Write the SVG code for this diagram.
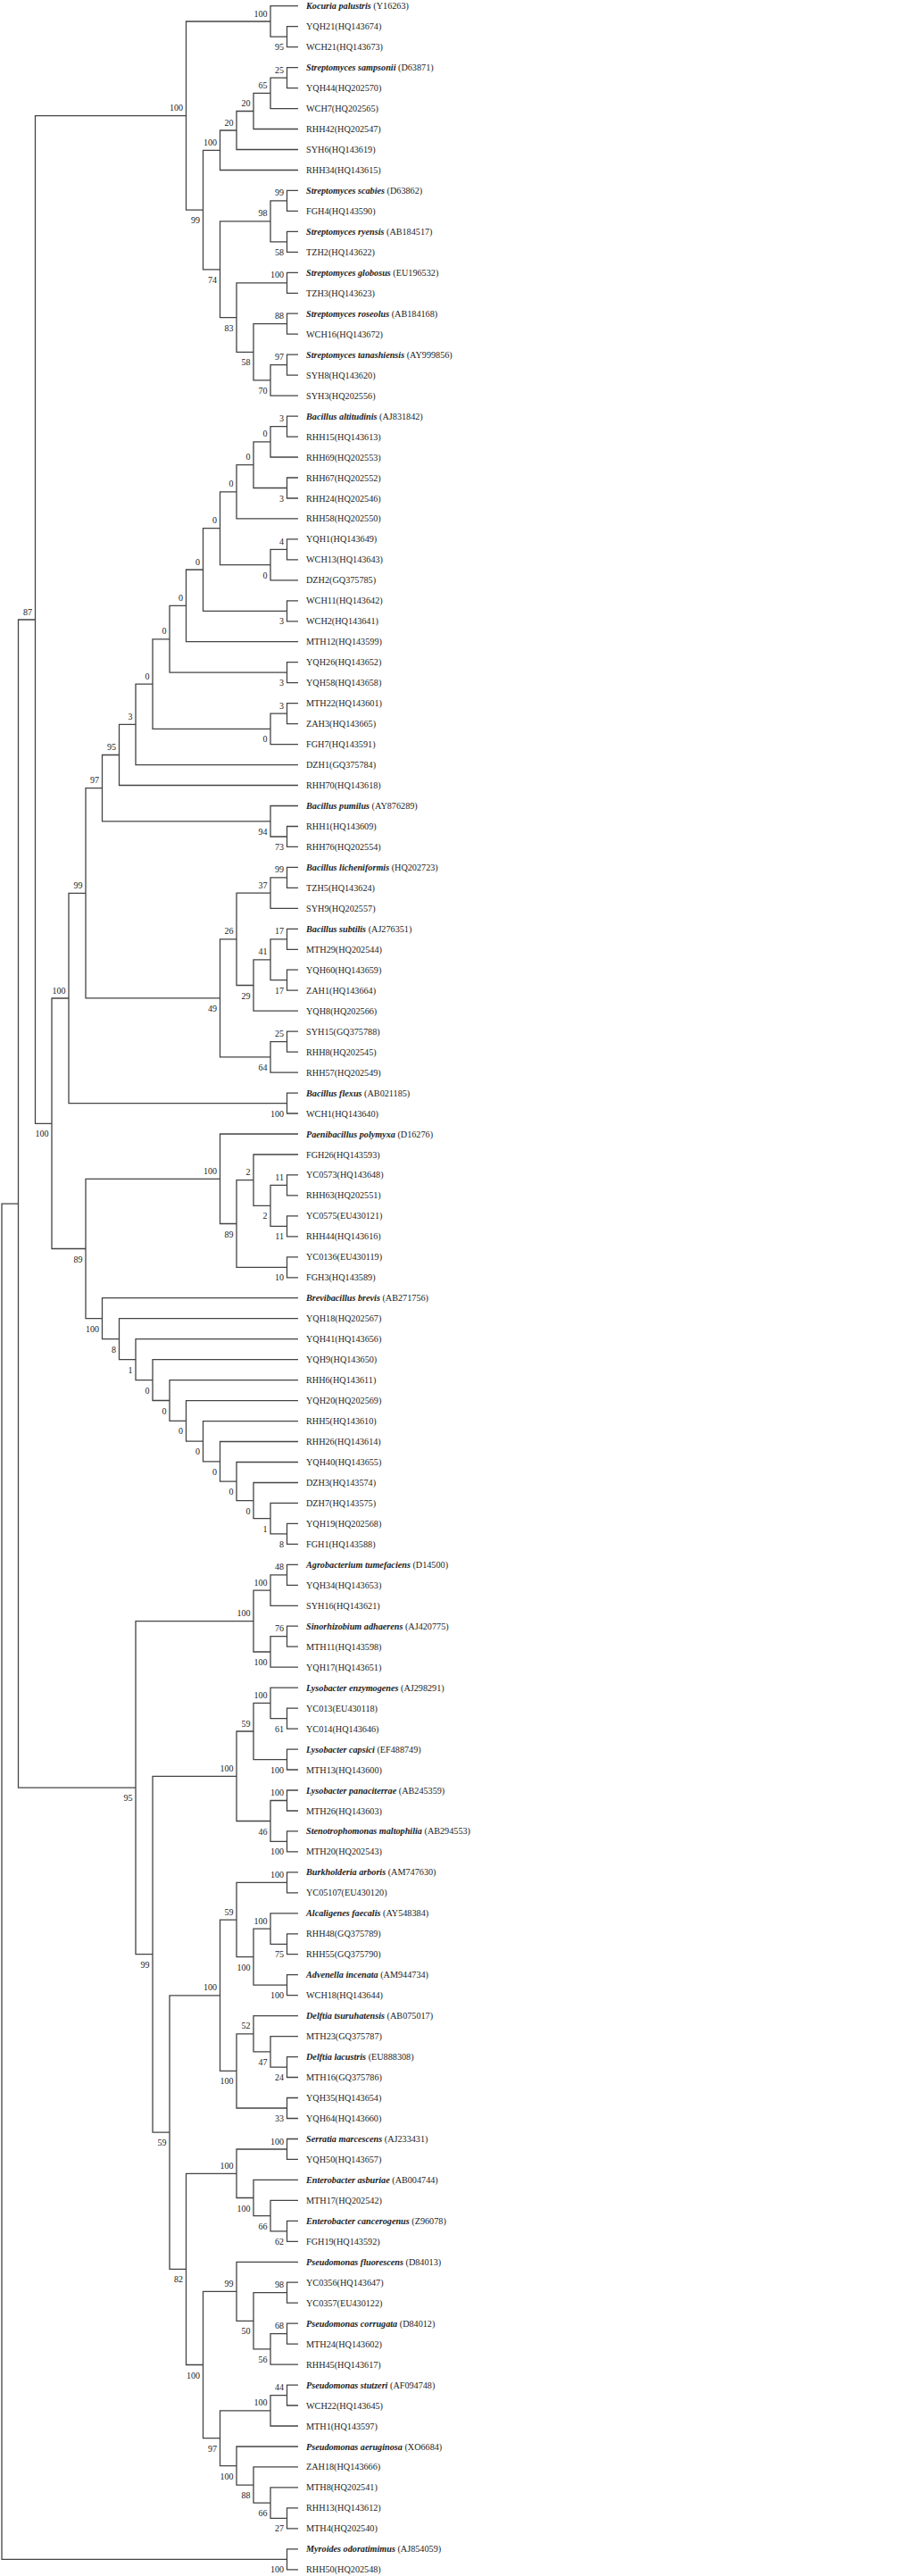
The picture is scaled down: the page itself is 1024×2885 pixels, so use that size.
<svg xmlns="http://www.w3.org/2000/svg" width="1024" height="2885" viewBox="0 0 1024 2885">
<style>
.br{fill:none;stroke:#444;stroke-width:1.3}
.lf{font-family:"Liberation Serif","Times New Roman",serif;font-size:10.2px;fill:#222}
.sp{font-weight:bold;font-style:italic}
.bs{font-family:"Liberation Serif","Times New Roman",serif;font-size:10px;fill:#222;text-anchor:end}
</style>
<rect width="1024" height="2885" fill="#fff"/>
<g id="connectors">
<path class="br" d="M334 29.7H321.5V52.6H334"/>
<path class="br" d="M334 6.7H303V41.2H321.5"/>
<path class="br" d="M334 75.6H321.5V98.6H334"/>
<path class="br" d="M321.5 87.1H303V121.6H334"/>
<path class="br" d="M303 104.4H284V144.5H334"/>
<path class="br" d="M284 124.5H265V167.5H334"/>
<path class="br" d="M265 146H246.5V190.5H334"/>
<path class="br" d="M334 213.4H321.5V236.4H334"/>
<path class="br" d="M334 259.4H321.5V282.3H334"/>
<path class="br" d="M321.5 224.9H303V270.9H321.5"/>
<path class="br" d="M334 305.3H321.5V328.3H334"/>
<path class="br" d="M334 351.2H321.5V374.2H334"/>
<path class="br" d="M334 397.2H321.5V420.2H334"/>
<path class="br" d="M321.5 408.7H303V443.1H334"/>
<path class="br" d="M321.5 362.7H284V425.9H303"/>
<path class="br" d="M321.5 316.8H265V394.3H284"/>
<path class="br" d="M303 247.9H246.5V355.6H265"/>
<path class="br" d="M246.5 168.3H227.5V301.8H246.5"/>
<path class="br" d="M303 24H208.5V235.1H227.5"/>
<path class="br" d="M334 466.1H321.5V489.1H334"/>
<path class="br" d="M321.5 477.6H303V512H334"/>
<path class="br" d="M334 535H321.5V558H334"/>
<path class="br" d="M303 494.8H284V546.5H321.5"/>
<path class="br" d="M284 520.7H265V580.9H334"/>
<path class="br" d="M334 603.9H321.5V626.9H334"/>
<path class="br" d="M321.5 615.4H303V649.8H334"/>
<path class="br" d="M265 550.8H246.5V632.6H303"/>
<path class="br" d="M334 672.8H321.5V695.8H334"/>
<path class="br" d="M246.5 591.7H227.5V684.3H321.5"/>
<path class="br" d="M227.5 638H208.5V718.7H334"/>
<path class="br" d="M334 741.7H321.5V764.7H334"/>
<path class="br" d="M208.5 678.4H190V753.2H321.5"/>
<path class="br" d="M334 787.7H321.5V810.6H334"/>
<path class="br" d="M321.5 799.2H303V833.6H334"/>
<path class="br" d="M190 715.8H171V816.4H303"/>
<path class="br" d="M171 766.1H152V856.6H334"/>
<path class="br" d="M152 811.4H133.5V879.5H334"/>
<path class="br" d="M334 925.5H321.5V948.4H334"/>
<path class="br" d="M334 902.5H303V937H321.5"/>
<path class="br" d="M133.5 845.5H114.5V919.8H303"/>
<path class="br" d="M334 971.4H321.5V994.4H334"/>
<path class="br" d="M321.5 982.9H303V1017.3H334"/>
<path class="br" d="M334 1040.3H321.5V1063.3H334"/>
<path class="br" d="M334 1086.2H321.5V1109.2H334"/>
<path class="br" d="M321.5 1051.8H303V1097.7H321.5"/>
<path class="br" d="M303 1074.8H284V1132.2H334"/>
<path class="br" d="M303 1000.1H265V1103.5H284"/>
<path class="br" d="M334 1155.2H321.5V1178.1H334"/>
<path class="br" d="M321.5 1166.7H303V1201.1H334"/>
<path class="br" d="M265 1051.8H246.5V1183.9H303"/>
<path class="br" d="M114.5 882.7H96V1117.9H246.5"/>
<path class="br" d="M334 1224.1H321.5V1247H334"/>
<path class="br" d="M96 1000.3H77V1235.6H321.5"/>
<path class="br" d="M334 1315.9H321.5V1338.9H334"/>
<path class="br" d="M334 1361.9H321.5V1384.8H334"/>
<path class="br" d="M321.5 1327.4H303V1373.4H321.5"/>
<path class="br" d="M334 1293H284V1350.4H303"/>
<path class="br" d="M334 1407.8H321.5V1430.8H334"/>
<path class="br" d="M284 1321.7H265V1419.3H321.5"/>
<path class="br" d="M334 1270H246.5V1370.5H265"/>
<path class="br" d="M334 1706.4H321.5V1729.4H334"/>
<path class="br" d="M334 1683.4H303V1717.9H321.5"/>
<path class="br" d="M334 1660.5H284V1700.7H303"/>
<path class="br" d="M334 1637.5H265V1680.6H284"/>
<path class="br" d="M334 1614.5H246.5V1659.1H265"/>
<path class="br" d="M334 1591.6H227.5V1636.8H246.5"/>
<path class="br" d="M334 1568.6H208.5V1614.2H227.5"/>
<path class="br" d="M334 1545.6H190V1591.4H208.5"/>
<path class="br" d="M334 1522.6H171V1568.5H190"/>
<path class="br" d="M334 1499.7H152V1545.6H171"/>
<path class="br" d="M334 1476.7H133.5V1522.7H152"/>
<path class="br" d="M334 1453.7H114.5V1499.7H133.5"/>
<path class="br" d="M246.5 1320.3H96V1476.7H114.5"/>
<path class="br" d="M77 1118H58V1398.5H96"/>
<path class="br" d="M208.5 129.6H39.5V1258.3H58"/>
<path class="br" d="M334 1752.3H321.5V1775.3H334"/>
<path class="br" d="M321.5 1763.8H303V1798.3H334"/>
<path class="br" d="M334 1821.2H321.5V1844.2H334"/>
<path class="br" d="M321.5 1832.7H303V1867.2H334"/>
<path class="br" d="M303 1781.1H284V1850H303"/>
<path class="br" d="M334 1913.1H321.5V1936.1H334"/>
<path class="br" d="M334 1890.1H303V1924.6H321.5"/>
<path class="br" d="M334 1959.1H321.5V1982H334"/>
<path class="br" d="M303 1907.4H284V1970.6H321.5"/>
<path class="br" d="M334 2005H321.5V2028H334"/>
<path class="br" d="M334 2050.9H321.5V2073.9H334"/>
<path class="br" d="M321.5 2016.5H303V2062.4H321.5"/>
<path class="br" d="M284 1939H265V2039.5H303"/>
<path class="br" d="M334 2096.9H321.5V2119.8H334"/>
<path class="br" d="M334 2165.8H321.5V2188.7H334"/>
<path class="br" d="M334 2142.8H303V2177.3H321.5"/>
<path class="br" d="M334 2211.7H321.5V2234.7H334"/>
<path class="br" d="M303 2160.1H284V2223.2H321.5"/>
<path class="br" d="M321.5 2108.4H265V2191.7H284"/>
<path class="br" d="M334 2303.6H321.5V2326.5H334"/>
<path class="br" d="M334 2280.6H303V2315.1H321.5"/>
<path class="br" d="M334 2257.6H284V2297.9H303"/>
<path class="br" d="M334 2349.5H321.5V2372.5H334"/>
<path class="br" d="M284 2277.8H265V2361H321.5"/>
<path class="br" d="M265 2150.1H246.5V2319.4H265"/>
<path class="br" d="M334 2395.5H321.5V2418.4H334"/>
<path class="br" d="M334 2487.3H321.5V2510.3H334"/>
<path class="br" d="M334 2464.4H303V2498.8H321.5"/>
<path class="br" d="M334 2441.4H284V2481.6H303"/>
<path class="br" d="M321.5 2407H265V2461.5H284"/>
<path class="br" d="M334 2556.2H321.5V2579.2H334"/>
<path class="br" d="M334 2602.2H321.5V2625.1H334"/>
<path class="br" d="M321.5 2613.7H303V2648.1H334"/>
<path class="br" d="M321.5 2567.7H284V2630.9H303"/>
<path class="br" d="M334 2533.3H265V2599.3H284"/>
<path class="br" d="M334 2671.1H321.5V2694H334"/>
<path class="br" d="M321.5 2682.6H303V2717H334"/>
<path class="br" d="M334 2808.9H321.5V2831.8H334"/>
<path class="br" d="M334 2785.9H303V2820.4H321.5"/>
<path class="br" d="M334 2762.9H284V2803.2H303"/>
<path class="br" d="M334 2740H265V2783.1H284"/>
<path class="br" d="M303 2699.8H246.5V2761.6H265"/>
<path class="br" d="M265 2566.3H227.5V2730.7H246.5"/>
<path class="br" d="M265 2434.3H208.5V2648.5H227.5"/>
<path class="br" d="M246.5 2234.8H190V2541.4H208.5"/>
<path class="br" d="M265 1989.3H171V2388.1H190"/>
<path class="br" d="M284 1815.6H152V2188.7H171"/>
<path class="br" d="M39.5 694H20.5V2002.2H152"/>
<path class="br" d="M334 2854.8H321.5V2877.8H334"/>
<path class="br" d="M20.5 1348.1H2V2866.3H321.5"/>
</g>
<g id="bootstrap">
<g id="n-A"><text class="bs" x="299.5" y="18.5">100</text></g>
<g id="n-B"><text class="bs" x="318" y="56.2">95</text></g>
<g id="n-J"><text class="bs" x="318" y="81.6">25</text></g>
<g id="n-I"><text class="bs" x="299.5" y="98.9">65</text></g>
<g id="n-H"><text class="bs" x="280.5" y="119">20</text></g>
<g id="n-G"><text class="bs" x="261.5" y="140.5">20</text></g>
<g id="n-E"><text class="bs" x="243" y="162.8">100</text></g>
<g id="n-M"><text class="bs" x="318" y="219.4">99</text></g>
<g id="n-N"><text class="bs" x="318" y="285.9">58</text></g>
<g id="n-K"><text class="bs" x="299.5" y="242.4">98</text></g>
<g id="n-O"><text class="bs" x="318" y="311.3">100</text></g>
<g id="n-Q"><text class="bs" x="318" y="357.2">88</text></g>
<g id="n-S"><text class="bs" x="318" y="403.2">97</text></g>
<g id="n-R"><text class="bs" x="299.5" y="440.9">70</text></g>
<g id="n-P"><text class="bs" x="280.5" y="409.3">58</text></g>
<g id="n-L"><text class="bs" x="261.5" y="370.6">83</text></g>
<g id="n-F"><text class="bs" x="243" y="316.8">74</text></g>
<g id="n-D"><text class="bs" x="224" y="250.1">99</text></g>
<g id="n-C"><text class="bs" x="205" y="124.1">100</text></g>
<g id="n-alt"><text class="bs" x="318" y="472.1">3</text></g>
<g id="n-AJ"><text class="bs" x="299.5" y="489.3">0</text></g>
<g id="n-67"><text class="bs" x="318" y="561.5">3</text></g>
<g id="n-AI"><text class="bs" x="280.5" y="515.2">0</text></g>
<g id="n-AG"><text class="bs" x="261.5" y="545.3">0</text></g>
<g id="n-yqh1"><text class="bs" x="318" y="609.9">4</text></g>
<g id="n-AH"><text class="bs" x="299.5" y="647.6">0</text></g>
<g id="n-AF"><text class="bs" x="243" y="586.2">0</text></g>
<g id="n-wch11"><text class="bs" x="318" y="699.3">3</text></g>
<g id="n-AE"><text class="bs" x="224" y="632.5">0</text></g>
<g id="n-AD"><text class="bs" x="205" y="672.9">0</text></g>
<g id="n-yqh26"><text class="bs" x="318" y="768.2">3</text></g>
<g id="n-AC"><text class="bs" x="186.5" y="710.3">0</text></g>
<g id="n-mth22"><text class="bs" x="318" y="793.7">3</text></g>
<g id="n-AB2"><text class="bs" x="299.5" y="831.4">0</text></g>
<g id="n-AB"><text class="bs" x="167.5" y="760.6">0</text></g>
<g id="n-AA"><text class="bs" x="148.5" y="805.9">3</text></g>
<g id="n-Z"><text class="bs" x="130" y="840">95</text></g>
<g id="n-rhh1"><text class="bs" x="318" y="952">73</text></g>
<g id="n-pum"><text class="bs" x="299.5" y="934.8">94</text></g>
<g id="n-X"><text class="bs" x="111" y="877.2">97</text></g>
<g id="n-lich"><text class="bs" x="318" y="977.4">99</text></g>
<g id="n-AM"><text class="bs" x="299.5" y="994.6">37</text></g>
<g id="n-sub"><text class="bs" x="318" y="1046.3">17</text></g>
<g id="n-yqh60"><text class="bs" x="318" y="1112.7">17</text></g>
<g id="n-AO"><text class="bs" x="299.5" y="1069.3">41</text></g>
<g id="n-AN"><text class="bs" x="280.5" y="1118.5">29</text></g>
<g id="n-AK"><text class="bs" x="261.5" y="1046.3">26</text></g>
<g id="n-syh15"><text class="bs" x="318" y="1161.2">25</text></g>
<g id="n-AL"><text class="bs" x="299.5" y="1198.9">64</text></g>
<g id="n-Y"><text class="bs" x="243" y="1132.9">49</text></g>
<g id="n-W"><text class="bs" x="92.5" y="994.8">99</text></g>
<g id="n-flex"><text class="bs" x="318" y="1250.6">100</text></g>
<g id="n-U"><text class="bs" x="73.5" y="1112.5">100</text></g>
<g id="n-yc0573"><text class="bs" x="318" y="1321.9">11</text></g>
<g id="n-yc0575"><text class="bs" x="318" y="1388.4">11</text></g>
<g id="n-AT"><text class="bs" x="299.5" y="1365.4">2</text></g>
<g id="n-AS"><text class="bs" x="280.5" y="1316.2">2</text></g>
<g id="n-yc0136"><text class="bs" x="318" y="1434.3">10</text></g>
<g id="n-AR"><text class="bs" x="261.5" y="1385.5">89</text></g>
<g id="n-AP"><text class="bs" x="243" y="1314.8">100</text></g>
<g id="n-yqh19"><text class="bs" x="318" y="1732.9">8</text></g>
<g id="n-BD"><text class="bs" x="299.5" y="1715.7">1</text></g>
<g id="n-BC"><text class="bs" x="280.5" y="1695.6">0</text></g>
<g id="n-BB"><text class="bs" x="261.5" y="1674.1">0</text></g>
<g id="n-BA"><text class="bs" x="243" y="1651.8">0</text></g>
<g id="n-AZ"><text class="bs" x="224" y="1629.2">0</text></g>
<g id="n-AY"><text class="bs" x="205" y="1606.4">0</text></g>
<g id="n-AX"><text class="bs" x="186.5" y="1583.5">0</text></g>
<g id="n-AW"><text class="bs" x="167.5" y="1560.6">0</text></g>
<g id="n-AV"><text class="bs" x="148.5" y="1537.7">1</text></g>
<g id="n-AU"><text class="bs" x="130" y="1514.7">8</text></g>
<g id="n-AQ"><text class="bs" x="111" y="1491.7">100</text></g>
<g id="n-V"><text class="bs" x="92.5" y="1413.5">89</text></g>
<g id="n-T"><text class="bs" x="54.5" y="1273.3">100</text></g>
<g id="n-87"><text class="bs" x="36" y="688.5">87</text></g>
<g id="n-agro"><text class="bs" x="318" y="1758.3">48</text></g>
<g id="n-BH"><text class="bs" x="299.5" y="1775.6">100</text></g>
<g id="n-sino"><text class="bs" x="318" y="1827.2">76</text></g>
<g id="n-BI"><text class="bs" x="299.5" y="1865">100</text></g>
<g id="n-BF"><text class="bs" x="280.5" y="1810.1">100</text></g>
<g id="n-yc013"><text class="bs" x="318" y="1939.6">61</text></g>
<g id="n-BN"><text class="bs" x="299.5" y="1901.9">100</text></g>
<g id="n-caps"><text class="bs" x="318" y="1985.6">100</text></g>
<g id="n-BL"><text class="bs" x="280.5" y="1933.5">59</text></g>
<g id="n-pana"><text class="bs" x="318" y="2011">100</text></g>
<g id="n-steno"><text class="bs" x="318" y="2077.4">100</text></g>
<g id="n-BM"><text class="bs" x="299.5" y="2054.5">46</text></g>
<g id="n-BJ"><text class="bs" x="261.5" y="1983.8">100</text></g>
<g id="n-burk"><text class="bs" x="318" y="2102.9">100</text></g>
<g id="n-rhh48"><text class="bs" x="318" y="2192.3">75</text></g>
<g id="n-BT"><text class="bs" x="299.5" y="2154.6">100</text></g>
<g id="n-adv"><text class="bs" x="318" y="2238.2">100</text></g>
<g id="n-BS"><text class="bs" x="280.5" y="2206.7">100</text></g>
<g id="n-BQ"><text class="bs" x="261.5" y="2144.6">59</text></g>
<g id="n-lac"><text class="bs" x="318" y="2330.1">24</text></g>
<g id="n-BV"><text class="bs" x="299.5" y="2312.9">47</text></g>
<g id="n-BU"><text class="bs" x="280.5" y="2272.3">52</text></g>
<g id="n-yqh35"><text class="bs" x="318" y="2376">33</text></g>
<g id="n-BR"><text class="bs" x="261.5" y="2334.4">100</text></g>
<g id="n-BO"><text class="bs" x="243" y="2229.3">100</text></g>
<g id="n-serr"><text class="bs" x="318" y="2401.5">100</text></g>
<g id="n-canc"><text class="bs" x="318" y="2513.8">62</text></g>
<g id="n-CB"><text class="bs" x="299.5" y="2496.6">66</text></g>
<g id="n-CA"><text class="bs" x="280.5" y="2476.5">100</text></g>
<g id="n-BW"><text class="bs" x="261.5" y="2428.8">100</text></g>
<g id="n-yc0356"><text class="bs" x="318" y="2562.2">98</text></g>
<g id="n-corr"><text class="bs" x="318" y="2608.2">68</text></g>
<g id="n-CD"><text class="bs" x="299.5" y="2645.9">56</text></g>
<g id="n-CC"><text class="bs" x="280.5" y="2614.3">50</text></g>
<g id="n-BY"><text class="bs" x="261.5" y="2560.8">99</text></g>
<g id="n-stut"><text class="bs" x="318" y="2677.1">44</text></g>
<g id="n-CE"><text class="bs" x="299.5" y="2694.3">100</text></g>
<g id="n-rhh13"><text class="bs" x="318" y="2835.4">27</text></g>
<g id="n-CH"><text class="bs" x="299.5" y="2818.2">66</text></g>
<g id="n-CG"><text class="bs" x="280.5" y="2798.1">88</text></g>
<g id="n-CF"><text class="bs" x="261.5" y="2776.6">100</text></g>
<g id="n-BZ"><text class="bs" x="243" y="2745.7">97</text></g>
<g id="n-BX"><text class="bs" x="224" y="2663.5">100</text></g>
<g id="n-BP"><text class="bs" x="205" y="2556.4">82</text></g>
<g id="n-BK"><text class="bs" x="186.5" y="2403.1">59</text></g>
<g id="n-BG"><text class="bs" x="167.5" y="2203.7">99</text></g>
<g id="n-BE"><text class="bs" x="148.5" y="2017.2">95</text></g>
<g id="n-myr"><text class="bs" x="318" y="2881.3">100</text></g>
</g>
<g id="leaves">
<g id="leaf-1"><text class="lf" x="343" y="10.2"><tspan class="sp">Kocuria palustris</tspan> (Y16263)</text></g>
<g id="leaf-2"><text class="lf" x="343" y="33.2">YQH21(HQ143674)</text></g>
<g id="leaf-3"><text class="lf" x="343" y="56.1">WCH21(HQ143673)</text></g>
<g id="leaf-4"><text class="lf" x="343" y="79.1"><tspan class="sp">Streptomyces sampsonii</tspan> (D63871)</text></g>
<g id="leaf-5"><text class="lf" x="343" y="102.1">YQH44(HQ202570)</text></g>
<g id="leaf-6"><text class="lf" x="343" y="125.1">WCH7(HQ202565)</text></g>
<g id="leaf-7"><text class="lf" x="343" y="148">RHH42(HQ202547)</text></g>
<g id="leaf-8"><text class="lf" x="343" y="171">SYH6(HQ143619)</text></g>
<g id="leaf-9"><text class="lf" x="343" y="194">RHH34(HQ143615)</text></g>
<g id="leaf-10"><text class="lf" x="343" y="216.9"><tspan class="sp">Streptomyces scabies</tspan> (D63862)</text></g>
<g id="leaf-11"><text class="lf" x="343" y="239.9">FGH4(HQ143590)</text></g>
<g id="leaf-12"><text class="lf" x="343" y="262.9"><tspan class="sp">Streptomyces ryensis</tspan> (AB184517)</text></g>
<g id="leaf-13"><text class="lf" x="343" y="285.8">TZH2(HQ143622)</text></g>
<g id="leaf-14"><text class="lf" x="343" y="308.8"><tspan class="sp">Streptomyces globosus</tspan> (EU196532)</text></g>
<g id="leaf-15"><text class="lf" x="343" y="331.8">TZH3(HQ143623)</text></g>
<g id="leaf-16"><text class="lf" x="343" y="354.7"><tspan class="sp">Streptomyces roseolus</tspan> (AB184168)</text></g>
<g id="leaf-17"><text class="lf" x="343" y="377.7">WCH16(HQ143672)</text></g>
<g id="leaf-18"><text class="lf" x="343" y="400.7"><tspan class="sp">Streptomyces tanashiensis</tspan> (AY999856)</text></g>
<g id="leaf-19"><text class="lf" x="343" y="423.7">SYH8(HQ143620)</text></g>
<g id="leaf-20"><text class="lf" x="343" y="446.6">SYH3(HQ202556)</text></g>
<g id="leaf-21"><text class="lf" x="343" y="469.6"><tspan class="sp">Bacillus altitudinis</tspan> (AJ831842)</text></g>
<g id="leaf-22"><text class="lf" x="343" y="492.6">RHH15(HQ143613)</text></g>
<g id="leaf-23"><text class="lf" x="343" y="515.5">RHH69(HQ202553)</text></g>
<g id="leaf-24"><text class="lf" x="343" y="538.5">RHH67(HQ202552)</text></g>
<g id="leaf-25"><text class="lf" x="343" y="561.5">RHH24(HQ202546)</text></g>
<g id="leaf-26"><text class="lf" x="343" y="584.4">RHH58(HQ202550)</text></g>
<g id="leaf-27"><text class="lf" x="343" y="607.4">YQH1(HQ143649)</text></g>
<g id="leaf-28"><text class="lf" x="343" y="630.4">WCH13(HQ143643)</text></g>
<g id="leaf-29"><text class="lf" x="343" y="653.3">DZH2(GQ375785)</text></g>
<g id="leaf-30"><text class="lf" x="343" y="676.3">WCH11(HQ143642)</text></g>
<g id="leaf-31"><text class="lf" x="343" y="699.3">WCH2(HQ143641)</text></g>
<g id="leaf-32"><text class="lf" x="343" y="722.2">MTH12(HQ143599)</text></g>
<g id="leaf-33"><text class="lf" x="343" y="745.2">YQH26(HQ143652)</text></g>
<g id="leaf-34"><text class="lf" x="343" y="768.2">YQH58(HQ143658)</text></g>
<g id="leaf-35"><text class="lf" x="343" y="791.2">MTH22(HQ143601)</text></g>
<g id="leaf-36"><text class="lf" x="343" y="814.1">ZAH3(HQ143665)</text></g>
<g id="leaf-37"><text class="lf" x="343" y="837.1">FGH7(HQ143591)</text></g>
<g id="leaf-38"><text class="lf" x="343" y="860.1">DZH1(GQ375784)</text></g>
<g id="leaf-39"><text class="lf" x="343" y="883">RHH70(HQ143618)</text></g>
<g id="leaf-40"><text class="lf" x="343" y="906"><tspan class="sp">Bacillus pumilus</tspan> (AY876289)</text></g>
<g id="leaf-41"><text class="lf" x="343" y="929">RHH1(HQ143609)</text></g>
<g id="leaf-42"><text class="lf" x="343" y="951.9">RHH76(HQ202554)</text></g>
<g id="leaf-43"><text class="lf" x="343" y="974.9"><tspan class="sp">Bacillus licheniformis</tspan> (HQ202723)</text></g>
<g id="leaf-44"><text class="lf" x="343" y="997.9">TZH5(HQ143624)</text></g>
<g id="leaf-45"><text class="lf" x="343" y="1020.8">SYH9(HQ202557)</text></g>
<g id="leaf-46"><text class="lf" x="343" y="1043.8"><tspan class="sp">Bacillus subtilis</tspan> (AJ276351)</text></g>
<g id="leaf-47"><text class="lf" x="343" y="1066.8">MTH29(HQ202544)</text></g>
<g id="leaf-48"><text class="lf" x="343" y="1089.7">YQH60(HQ143659)</text></g>
<g id="leaf-49"><text class="lf" x="343" y="1112.7">ZAH1(HQ143664)</text></g>
<g id="leaf-50"><text class="lf" x="343" y="1135.7">YQH8(HQ202566)</text></g>
<g id="leaf-51"><text class="lf" x="343" y="1158.7">SYH15(GQ375788)</text></g>
<g id="leaf-52"><text class="lf" x="343" y="1181.6">RHH8(HQ202545)</text></g>
<g id="leaf-53"><text class="lf" x="343" y="1204.6">RHH57(HQ202549)</text></g>
<g id="leaf-54"><text class="lf" x="343" y="1227.6"><tspan class="sp">Bacillus flexus</tspan> (AB021185)</text></g>
<g id="leaf-55"><text class="lf" x="343" y="1250.5">WCH1(HQ143640)</text></g>
<g id="leaf-56"><text class="lf" x="343" y="1273.5"><tspan class="sp">Paenibacillus polymyxa</tspan> (D16276)</text></g>
<g id="leaf-57"><text class="lf" x="343" y="1296.5">FGH26(HQ143593)</text></g>
<g id="leaf-58"><text class="lf" x="343" y="1319.4">YC0573(HQ143648)</text></g>
<g id="leaf-59"><text class="lf" x="343" y="1342.4">RHH63(HQ202551)</text></g>
<g id="leaf-60"><text class="lf" x="343" y="1365.4">YC0575(EU430121)</text></g>
<g id="leaf-61"><text class="lf" x="343" y="1388.3">RHH44(HQ143616)</text></g>
<g id="leaf-62"><text class="lf" x="343" y="1411.3">YC0136(EU430119)</text></g>
<g id="leaf-63"><text class="lf" x="343" y="1434.3">FGH3(HQ143589)</text></g>
<g id="leaf-64"><text class="lf" x="343" y="1457.2"><tspan class="sp">Brevibacillus brevis</tspan> (AB271756)</text></g>
<g id="leaf-65"><text class="lf" x="343" y="1480.2">YQH18(HQ202567)</text></g>
<g id="leaf-66"><text class="lf" x="343" y="1503.2">YQH41(HQ143656)</text></g>
<g id="leaf-67"><text class="lf" x="343" y="1526.1">YQH9(HQ143650)</text></g>
<g id="leaf-68"><text class="lf" x="343" y="1549.1">RHH6(HQ143611)</text></g>
<g id="leaf-69"><text class="lf" x="343" y="1572.1">YQH20(HQ202569)</text></g>
<g id="leaf-70"><text class="lf" x="343" y="1595.1">RHH5(HQ143610)</text></g>
<g id="leaf-71"><text class="lf" x="343" y="1618">RHH26(HQ143614)</text></g>
<g id="leaf-72"><text class="lf" x="343" y="1641">YQH40(HQ143655)</text></g>
<g id="leaf-73"><text class="lf" x="343" y="1664">DZH3(HQ143574)</text></g>
<g id="leaf-74"><text class="lf" x="343" y="1686.9">DZH7(HQ143575)</text></g>
<g id="leaf-75"><text class="lf" x="343" y="1709.9">YQH19(HQ202568)</text></g>
<g id="leaf-76"><text class="lf" x="343" y="1732.9">FGH1(HQ143588)</text></g>
<g id="leaf-77"><text class="lf" x="343" y="1755.8"><tspan class="sp">Agrobacterium tumefaciens</tspan> (D14500)</text></g>
<g id="leaf-78"><text class="lf" x="343" y="1778.8">YQH34(HQ143653)</text></g>
<g id="leaf-79"><text class="lf" x="343" y="1801.8">SYH16(HQ143621)</text></g>
<g id="leaf-80"><text class="lf" x="343" y="1824.7"><tspan class="sp">Sinorhizobium adhaerens</tspan> (AJ420775)</text></g>
<g id="leaf-81"><text class="lf" x="343" y="1847.7">MTH11(HQ143598)</text></g>
<g id="leaf-82"><text class="lf" x="343" y="1870.7">YQH17(HQ143651)</text></g>
<g id="leaf-83"><text class="lf" x="343" y="1893.6"><tspan class="sp">Lysobacter enzymogenes</tspan> (AJ298291)</text></g>
<g id="leaf-84"><text class="lf" x="343" y="1916.6">YC013(EU430118)</text></g>
<g id="leaf-85"><text class="lf" x="343" y="1939.6">YC014(HQ143646)</text></g>
<g id="leaf-86"><text class="lf" x="343" y="1962.6"><tspan class="sp">Lysobacter capsici</tspan> (EF488749)</text></g>
<g id="leaf-87"><text class="lf" x="343" y="1985.5">MTH13(HQ143600)</text></g>
<g id="leaf-88"><text class="lf" x="343" y="2008.5"><tspan class="sp">Lysobacter panaciterrae</tspan> (AB245359)</text></g>
<g id="leaf-89"><text class="lf" x="343" y="2031.5">MTH26(HQ143603)</text></g>
<g id="leaf-90"><text class="lf" x="343" y="2054.4"><tspan class="sp">Stenotrophomonas maltophilia</tspan> (AB294553)</text></g>
<g id="leaf-91"><text class="lf" x="343" y="2077.4">MTH20(HQ202543)</text></g>
<g id="leaf-92"><text class="lf" x="343" y="2100.4"><tspan class="sp">Burkholderia arboris</tspan> (AM747630)</text></g>
<g id="leaf-93"><text class="lf" x="343" y="2123.3">YC05107(EU430120)</text></g>
<g id="leaf-94"><text class="lf" x="343" y="2146.3"><tspan class="sp">Alcaligenes faecalis</tspan> (AY548384)</text></g>
<g id="leaf-95"><text class="lf" x="343" y="2169.3">RHH48(GQ375789)</text></g>
<g id="leaf-96"><text class="lf" x="343" y="2192.2">RHH55(GQ375790)</text></g>
<g id="leaf-97"><text class="lf" x="343" y="2215.2"><tspan class="sp">Advenella incenata</tspan> (AM944734)</text></g>
<g id="leaf-98"><text class="lf" x="343" y="2238.2">WCH18(HQ143644)</text></g>
<g id="leaf-99"><text class="lf" x="343" y="2261.1"><tspan class="sp">Delftia tsuruhatensis</tspan> (AB075017)</text></g>
<g id="leaf-100"><text class="lf" x="343" y="2284.1">MTH23(GQ375787)</text></g>
<g id="leaf-101"><text class="lf" x="343" y="2307.1"><tspan class="sp">Delftia lacustris</tspan> (EU888308)</text></g>
<g id="leaf-102"><text class="lf" x="343" y="2330">MTH16(GQ375786)</text></g>
<g id="leaf-103"><text class="lf" x="343" y="2353">YQH35(HQ143654)</text></g>
<g id="leaf-104"><text class="lf" x="343" y="2376">YQH64(HQ143660)</text></g>
<g id="leaf-105"><text class="lf" x="343" y="2399"><tspan class="sp">Serratia marcescens</tspan> (AJ233431)</text></g>
<g id="leaf-106"><text class="lf" x="343" y="2421.9">YQH50(HQ143657)</text></g>
<g id="leaf-107"><text class="lf" x="343" y="2444.9"><tspan class="sp">Enterobacter asburiae</tspan> (AB004744)</text></g>
<g id="leaf-108"><text class="lf" x="343" y="2467.9">MTH17(HQ202542)</text></g>
<g id="leaf-109"><text class="lf" x="343" y="2490.8"><tspan class="sp">Enterobacter cancerogenus</tspan> (Z96078)</text></g>
<g id="leaf-110"><text class="lf" x="343" y="2513.8">FGH19(HQ143592)</text></g>
<g id="leaf-111"><text class="lf" x="343" y="2536.8"><tspan class="sp">Pseudomonas fluorescens</tspan> (D84013)</text></g>
<g id="leaf-112"><text class="lf" x="343" y="2559.7">YC0356(HQ143647)</text></g>
<g id="leaf-113"><text class="lf" x="343" y="2582.7">YC0357(EU430122)</text></g>
<g id="leaf-114"><text class="lf" x="343" y="2605.7"><tspan class="sp">Pseudomonas corrugata</tspan> (D84012)</text></g>
<g id="leaf-115"><text class="lf" x="343" y="2628.6">MTH24(HQ143602)</text></g>
<g id="leaf-116"><text class="lf" x="343" y="2651.6">RHH45(HQ143617)</text></g>
<g id="leaf-117"><text class="lf" x="343" y="2674.6"><tspan class="sp">Pseudomonas stutzeri</tspan> (AF094748)</text></g>
<g id="leaf-118"><text class="lf" x="343" y="2697.5">WCH22(HQ143645)</text></g>
<g id="leaf-119"><text class="lf" x="343" y="2720.5">MTH1(HQ143597)</text></g>
<g id="leaf-120"><text class="lf" x="343" y="2743.5"><tspan class="sp">Pseudomonas aeruginosa</tspan> (XO6684)</text></g>
<g id="leaf-121"><text class="lf" x="343" y="2766.4">ZAH18(HQ143666)</text></g>
<g id="leaf-122"><text class="lf" x="343" y="2789.4">MTH8(HQ202541)</text></g>
<g id="leaf-123"><text class="lf" x="343" y="2812.4">RHH13(HQ143612)</text></g>
<g id="leaf-124"><text class="lf" x="343" y="2835.3">MTH4(HQ202540)</text></g>
<g id="leaf-125"><text class="lf" x="343" y="2858.3"><tspan class="sp">Myroides odoratimimus</tspan> (AJ854059)</text></g>
<g id="leaf-126"><text class="lf" x="343" y="2881.3">RHH50(HQ202548)</text></g>
</g>
</svg>
